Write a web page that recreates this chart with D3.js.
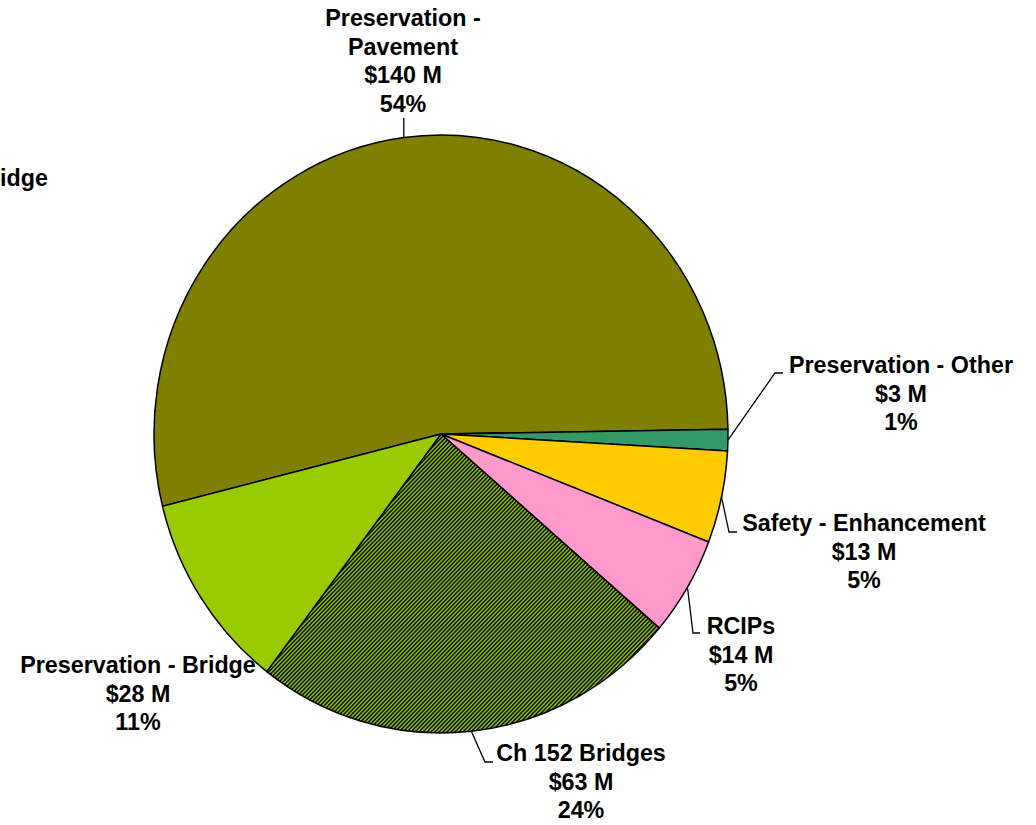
<!DOCTYPE html>
<html>
<head>
<meta charset="utf-8">
<script src="https://cdn.jsdelivr.net/npm/d3@7"></script>
<style>
  html, body { margin: 0; padding: 0; background: #ffffff; }
  svg { display: block; }
  text { font-family: "Liberation Sans", Arial, sans-serif; font-weight: bold; fill: #000; }
</style>
</head>
<body>
<script>
// ---- data ----
const categories = ["Preservation - Pavement", "Preservation - Other", "Safety - Enhancement", "RCIPs", "Ch 152 Bridges", "Preservation - Bridge"];
const labelLines = [["Preservation -", "Pavement"], ["Preservation - Other"], ["Safety - Enhancement"], ["RCIPs"], ["Ch 152 Bridges"], ["Preservation - Bridge"]];
const values = [140, 3, 13, 14, 63, 28];          // $ millions
const amountLabels = ["$140 M", "$3 M", "$13 M", "$14 M", "$63 M", "$28 M"];
const percentLabels = ["54%", "1%", "5%", "5%", "24%", "11%"];
const colors = ["#808000", "#339966", "#FFCC00", "#FF99CC", "#99CC00", "#99CC00"];
const hatched = [false, false, false, false, true, false];
const clippedLabel = "Bridge";

// ---- layout ----
const W = 1036, H = 825;
const cx = 441, cy = 434, rx = 287, ry = 299;
const startDeg = 256;
// label anchor: center x, first baseline y, leader elbow (null = none), leader end
const labelPos = [
  {x: 403, y: 26, elbow: [null, 118], end: null},
  {x: 901, y: 373, elbow: [775, 373], end: [783, 373]},
  {x: 864, y: 531, elbow: [729, 532], end: [737, 532]},
  {x: 741, y: 634, elbow: [693, 633], end: [700, 633]},
  {x: 581, y: 761, elbow: [485, 762], end: [493, 762]},
  {x: 138, y: 673, elbow: null, end: null}
];
const lineH = 28.5;
const fontSize = "23.3px";

const svg = d3.select("body").append("svg").attr("width", W).attr("height", H);

const defs = svg.append("defs");
const pat = defs.append("pattern").attr("id", "hatch")
  .attr("patternUnits", "userSpaceOnUse").attr("width", 4).attr("height", 4);
pat.append("rect").attr("width", 4).attr("height", 4).attr("fill", "#99CC00");
pat.append("path").attr("d", "M-1,1 L1,-1 M0,4 L4,0 M3,5 L5,3")
  .attr("stroke", "#000").attr("stroke-width", 1.45);

const data = categories.map((c, i) => ({cat: c, value: values[i], i}));
const start = startDeg * Math.PI / 180;
const pie = d3.pie().value(d => d.value).sort(null)
  .startAngle(start).endAngle(start + 2 * Math.PI);
const arcs = pie(data);
const arc = d3.arc().innerRadius(0).outerRadius(rx);

const g = svg.append("g").attr("transform", `translate(${cx},${cy}) scale(1,${ry / rx})`);
g.selectAll("path.slice").data(arcs).enter().append("path")
  .attr("class", "slice")
  .attr("d", arc)
  .attr("fill", d => hatched[d.data.i] ? "url(#hatch)" : colors[d.data.i])
  .attr("stroke", "#000").attr("stroke-width", 1.5)
  .attr("vector-effect", "non-scaling-stroke")
  .attr("stroke-linejoin", "round");

// leader lines
arcs.forEach(a => {
  const p = labelPos[a.data.i];
  if (!p.elbow) return;
  const mid = (a.startAngle + a.endAngle) / 2;
  const sx = cx + rx * Math.sin(mid), sy = cy - ry * Math.cos(mid);
  const pts = [[sx, sy]];
  pts.push([p.elbow[0] === null ? sx : p.elbow[0], p.elbow[1]]);
  if (p.end) pts.push(p.end);
  svg.append("path").attr("d", d3.line()(pts))
    .attr("fill", "none").attr("stroke", "#000").attr("stroke-width", 1.3);
});

// labels
arcs.forEach(a => {
  const i = a.data.i, p = labelPos[i];
  const lines = labelLines[i].concat([amountLabels[i], percentLabels[i]]);
  const t = svg.append("text").attr("text-anchor", "middle").style("font-size", fontSize);
  lines.forEach((ln, k) => {
    t.append("tspan").attr("x", p.x).attr("y", p.y + k * lineH).text(ln);
  });
});

// partially visible label at left edge (cut off in the reference as well)
svg.append("text").attr("x", 48).attr("y", 186).attr("text-anchor", "end")
  .style("font-size", fontSize).text(clippedLabel);
</script>
</body>
</html>
